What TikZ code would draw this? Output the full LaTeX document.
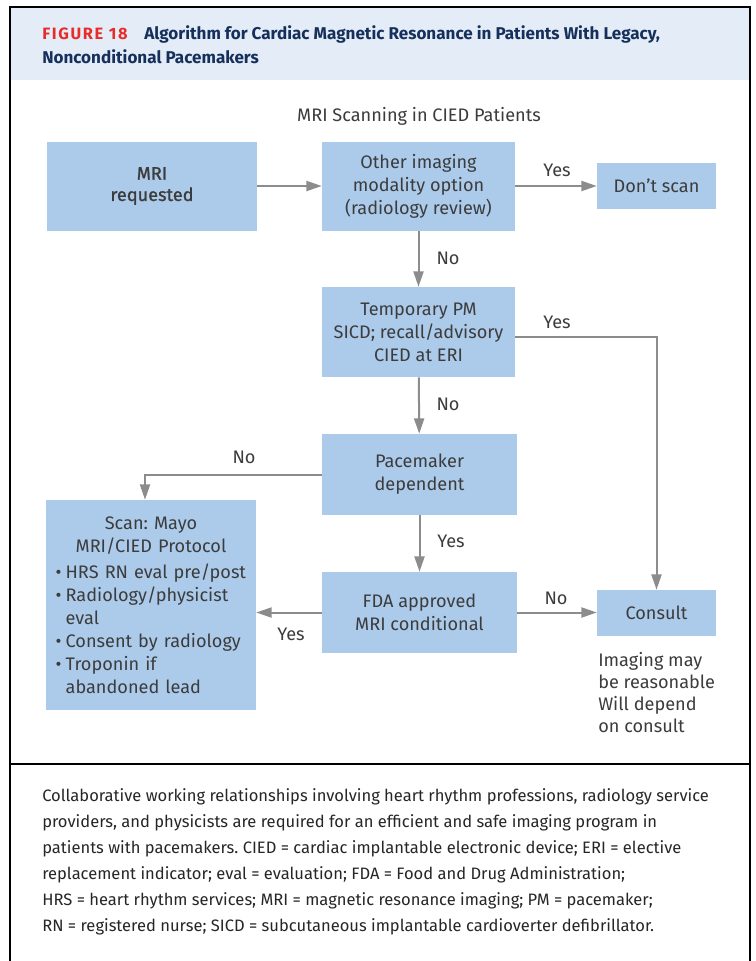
\documentclass[tikz,border=0pt]{standalone}
\usepackage{fontspec}
\setmainfont{Fira Sans}
\usetikzlibrary{arrows.meta,calc}
\definecolor{boxblue}{RGB}{172,203,235}
\definecolor{headblue}{RGB}{228,236,247}
\definecolor{figred}{RGB}{232,44,42}
\definecolor{navy}{RGB}{22,48,92}
\definecolor{txt}{RGB}{60,60,60}
\definecolor{arr}{RGB}{140,140,140}
\newcommand\bitem[1]{\par\noindent\makebox[7.5pt][l]{\textbullet}\mbox{#1}}
\newcommand\bcont[1]{\par\noindent\hspace*{7.5pt}\mbox{#1}}
\frenchspacing
\begin{document}
\begin{tikzpicture}[x=0.75pt,y=-0.75pt,
 box/.style={fill=boxblue, draw=none, text=txt, align=center, inner sep=0pt, font=\fontsize{13.6pt}{17.25pt}\selectfont},
 conn/.style={draw=arr, line width=1.5pt, -{Triangle[length=11.5pt,width=7.5pt]}},
 lbl/.style={text=txt, font=\fontsize{13.6pt}{15pt}\selectfont, inner sep=0pt},
 frame/.style={draw=black, line width=1.2pt},
]
\useasboundingbox (0,0) rectangle (756,961);
\fill[white] (0,0) rectangle (756,961);
\fill[headblue] (10,7) rectangle (750,80);
\draw[frame] (10,975) -- (10,7) -- (750,7) -- (750,975);
\draw[frame] (10,764) -- (750,764);

% header
\node[anchor=base west, inner sep=0pt, text=figred, font=\bfseries\fontsize{12.3pt}{18pt}\selectfont] (fig) at (42,39) {\addfontfeature{LetterSpace=10}FIGURE 18};
\node[anchor=base west, inner sep=0pt, text=navy, font=\bfseries\fontsize{12.8pt}{18pt}\selectfont] (title1) at (144,39) {Algorithm for Cardiac Magnetic Resonance in Patients With Legacy,};
\node[anchor=base west, inner sep=0pt, text=navy, font=\bfseries\fontsize{12.8pt}{18pt}\selectfont] (title2) at (42,63) {Nonconditional Pacemakers};

\node[lbl] (heading) at (419,116) {MRI Scanning in CIED Patients};

% boxes
\node[box, minimum width=157.5pt, minimum height=66.75pt, font=\fontsize{13.6pt}{16pt}\selectfont\addfontfeature{FakeBold=1.2}] (req) at (152,186) {MRI\\requested};
\node[box, minimum width=144.75pt, minimum height=66.75pt] (other) at (418.5,186) {Other imaging\\modality option\\(radiology review)};
\node[box, minimum width=89.25pt, minimum height=34.5pt] (dont) at (656.5,186) {Don't scan};
\node[box, minimum width=144.75pt, minimum height=67.5pt] (temp) at (418.5,332) {Temporary PM\\SICD; recall/advisory\\CIED at ERI};
\node[box, minimum width=146.25pt, minimum height=60.75pt] (pmdep) at (419.5,474.5) {Pacemaker\\dependent};
\node[box, minimum width=146.25pt, minimum height=60.75pt] (fda) at (419.5,612.5) {FDA approved\\MRI conditional};
\node[box, minimum width=89.25pt, minimum height=34.5pt] (consult) at (656.5,613) {Consult};
\node[box, minimum width=157.5pt, minimum height=157.5pt, text width=143pt, align=left] (scan) at (151,605)
 {{\centering Scan: Mayo\\MRI/CIED Protocol\par}\vspace{2pt}
 \bitem{HRS RN eval pre/post}
 \bitem{Radiology/physicist}
 \bcont{eval}
 \bitem{Consent by radiology}
 \bitem{Troponin if}
 \bcont{abandoned lead}\par};

\node[lbl, anchor=north west, align=left, font=\fontsize{13.6pt}{16.5pt}\selectfont] (note) at (598,652) {Imaging may\\be reasonable\\Will depend\\on consult};

% connectors
\draw[conn] (req) -- (other);
\draw[conn] (other) -- (dont);
\draw[conn] (other) -- (temp);
\draw[conn] ($(temp.east)+(0,5)$) -| (consult.north);
\draw[conn] (temp) -- (pmdep);
\draw[conn] (pmdep.west) -| ($(scan.north)+(-6,0)$);
\draw[conn] (pmdep) -- (fda);
\draw[conn] (fda.west) -- (scan.east |- fda.west);
\draw[conn] (fda.east) -- (consult.west |- fda.east);

% labels
\node[lbl] (l1) at (557,170) {Yes};
\node[lbl] (l2) at (448,258) {No};
\node[lbl] (l3) at (557,322) {Yes};
\node[lbl] (l4) at (448,404) {No};
\node[lbl] (l5) at (244,457) {No};
\node[lbl] (l6) at (451,541) {Yes};
\node[lbl] (l7) at (291,634) {Yes};
\node[lbl] (l8) at (556,598) {No};

% caption
\node[anchor=north west, inner sep=0pt, align=left, text=black!85, font=\fontsize{12.4pt}{19.5pt}\selectfont] (cap) at (42,788)
 {Collaborative working relationships involving heart rhythm professions, radiology service\\
 providers, and physicists are required for an efficient and safe imaging program in\\
 patients with pacemakers. CIED = cardiac implantable electronic device; ERI = elective\\
 replacement indicator; eval = evaluation; FDA = Food and Drug Administration;\\
 HRS = heart rhythm services; MRI = magnetic resonance imaging; PM = pacemaker;\\
 RN = registered nurse; SICD = subcutaneous implantable cardioverter defibrillator.};
\end{tikzpicture}
\end{document}
